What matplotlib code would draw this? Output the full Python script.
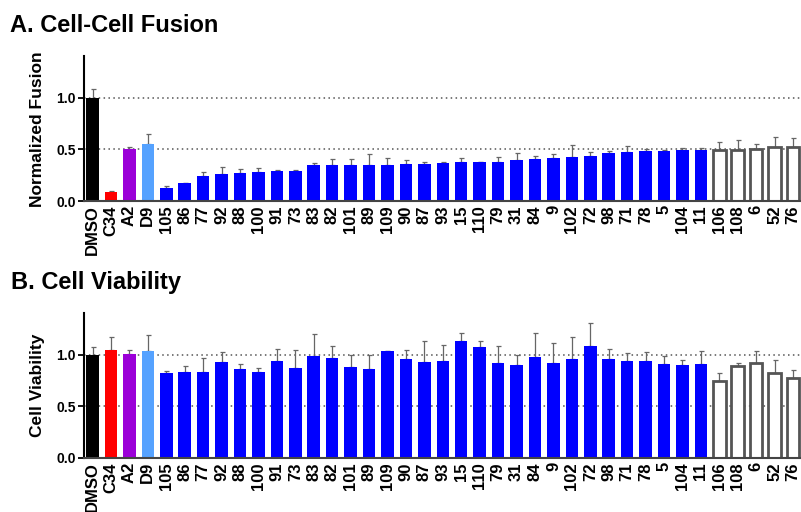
import numpy as np
import matplotlib.pyplot as plt

plt.rcParams['font.family'] = ['Liberation Sans', 'DejaVu Sans']
plt.rcParams['font.weight'] = 'bold'

# compound labels, shared by both panels
labels = ['DMSO', 'C34', 'A2', 'D9', '105', '86', '77', '92', '88', '100',
          '91', '73', '83', '82', '101', '89', '109', '90', '87', '93',
          '15', '110', '79', '31', '84', '9', '102', '72', '98', '71',
          '78', '5', '104', '11', '106', '108', '6', '52', '76']

# normalized fusion (mean, upper error)
fusion = [1.00, 0.084, 0.50, 0.555, 0.13, 0.17, 0.242, 0.258, 0.271, 0.281,
          0.29, 0.29, 0.348, 0.348, 0.348, 0.348, 0.352, 0.355, 0.361, 0.368,
          0.374, 0.374, 0.377, 0.40, 0.406, 0.413, 0.426, 0.439, 0.468, 0.471,
          0.484, 0.484, 0.494, 0.497, 0.497, 0.497, 0.503, 0.52, 0.523]
fusion_err = [0.08, 0.016, 0.025, 0.095, 0.015, 0.007, 0.035, 0.068, 0.035, 0.038,
              0.007, 0.007, 0.02, 0.062, 0.055, 0.107, 0.061, 0.039, 0.016, 0.006,
              0.045, 0.007, 0.046, 0.068, 0.029, 0.039, 0.116, 0.038, 0.016, 0.061,
              0.019, 0.013, 0.016, 0.019, 0.077, 0.093, 0.045, 0.099, 0.087]

# cell viability (mean, upper error)
viability = [1.00, 1.045, 1.01, 1.032, 0.826, 0.835, 0.829, 0.926, 0.861, 0.829,
             0.935, 0.868, 0.987, 0.965, 0.881, 0.858, 1.032, 0.958, 0.926, 0.942,
             1.135, 1.077, 0.923, 0.90, 0.977, 0.919, 0.955, 1.084, 0.961, 0.939,
             0.939, 0.906, 0.903, 0.906, 0.746, 0.894, 0.923, 0.823, 0.775]
viability_err = [0.077, 0.129, 0.038, 0.158, 0.019, 0.055, 0.139, 0.097, 0.045, 0.039,
                 0.117, 0.18, 0.213, 0.116, 0.116, 0.139, 0.0, 0.084, 0.203, 0.155,
                 0.071, 0.058, 0.158, 0.097, 0.229, 0.191, 0.213, 0.226, 0.097, 0.08,
                 0.09, 0.084, 0.042, 0.133, 0.077, 0.029, 0.116, 0.129, 0.074]

n_open = 5  # last compounds drawn as open bars


def bar_colors(n):
    cols = ['black', '#ff0000', '#9b00d8', '#55a2ff'] + ['#0000ff'] * (n - 4 - n_open)
    return cols + ['white'] * n_open


def draw_panel(ax, vals, errs, ylabel):
    x = np.arange(len(labels))
    cols = bar_colors(len(labels))
    edges = [c for c in cols[:-n_open]] + ['#555555'] * n_open
    lws = [0] * (len(labels) - n_open) + [2.0] * n_open
    for yl in (0.5, 1.0):
        ax.axhline(yl, color='#555555', lw=1.1, ls=(0, (1, 2.2)), zorder=0)
    ax.bar(x, vals, width=0.68, color=cols, edgecolor=edges, linewidth=lws, zorder=2)
    ax.errorbar(x, vals, yerr=[np.zeros(len(vals)), errs], fmt='none',
                ecolor='#666666', elinewidth=0.9, capsize=1.8, capthick=0.9, zorder=1)
    ax.set_xlim(-0.46, 38.43)
    ax.set_ylim(0, 1.4)
    ax.set_yticks([0.0, 0.5, 1.0])
    ax.set_yticklabels(['0.0', '0.5', '1.0'], fontsize=10, fontweight='bold')
    ax.set_xticks(x)
    ax.set_xticklabels(labels, rotation=90, fontsize=12, fontweight='bold')
    ax.tick_params(axis='x', length=0, pad=3)
    ax.tick_params(axis='y', length=4, width=1.3, pad=2)
    ax.set_ylabel(ylabel, fontsize=12.5, fontweight='bold', labelpad=8)
    for s in ('top', 'right'):
        ax.spines[s].set_visible(False)
    ax.spines['left'].set_linewidth(1.5)
    ax.spines['bottom'].set_linewidth(1.5)
    ax.spines['bottom'].set_color('#444444')


fig = plt.figure(figsize=(8.01, 5.12), dpi=100)
ax_a = fig.add_axes([0.1049, 0.6074, 0.8951, 0.2824])
ax_b = fig.add_axes([0.1049, 0.1055, 0.8951, 0.2824])

draw_panel(ax_a, fusion, fusion_err, 'Normalized Fusion')
draw_panel(ax_b, viability, viability_err, 'Cell Viability')

fig.text(0.012, 0.938, 'A. Cell-Cell Fusion', fontsize=17, fontweight='bold')
fig.text(0.014, 0.435, 'B. Cell Viability', fontsize=17, fontweight='bold')

fig.savefig('out.png', dpi=100)
